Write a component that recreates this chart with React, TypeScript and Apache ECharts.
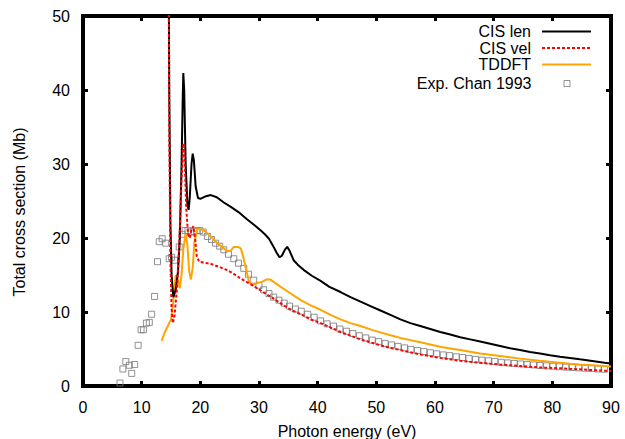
import React, { useEffect, useRef } from "react";
import * as echarts from "echarts";

// Photon energy (eV) / total cross section (Mb)
const cisLen: [number, number][] = [
  [14.5, 80], [14.7, 40], [14.9, 22], [15.1, 15], [15.4, 12.0], [15.8, 13.0], [16.2, 15.5],
  [16.5, 20], [16.8, 30], [17.0, 39], [17.1, 42.3], [17.25, 40], [17.5, 30], [17.8, 24.5],
  [18.0, 23.8], [18.2, 25.5], [18.5, 30], [18.7, 31.4], [18.9, 30.5], [19.2, 27], [19.6, 25.4],
  [20.0, 25.3], [20.8, 25.6], [21.8, 25.8], [22.8, 25.5], [24.0, 24.8], [25.2, 24.2], [26.5, 23.5],
  [28.0, 22.5], [29.3, 21.7], [30.3, 21.0], [31.0, 20.5], [31.7, 19.9], [32.5, 18.8], [33.0, 18.0],
  [33.5, 17.4], [33.9, 17.6], [34.4, 18.4], [34.8, 18.8], [35.2, 18.3], [35.9, 17.0], [36.6, 16.4],
  [37.6, 15.7], [39.0, 14.9], [40.5, 14.2], [42.0, 13.4], [43.9, 12.7], [45.6, 12.0], [47.3, 11.4],
  [49.0, 10.8], [50.7, 10.2], [52.4, 9.6], [54.1, 9.0], [55.8, 8.5], [57.5, 8.1], [59.2, 7.7],
  [60.9, 7.3], [62.6, 6.95], [64.3, 6.6], [66.0, 6.3], [67.7, 6.0], [69.4, 5.7], [71.1, 5.4],
  [72.8, 5.1], [74.5, 4.86], [76.2, 4.6], [77.9, 4.4], [79.6, 4.15], [81.3, 3.96], [83.0, 3.78],
  [84.7, 3.6], [86.8, 3.38], [88.9, 3.15], [90, 3.05],
];

const cisVel: [number, number][] = [
  [14.5, 80], [14.7, 35], [14.9, 17], [15.1, 10.5], [15.3, 8.5], [15.6, 9.5], [16.0, 13],
  [16.4, 19], [16.8, 28], [17.1, 32.8], [17.3, 31], [17.6, 24], [17.9, 20.5], [18.2, 20.0],
  [18.5, 21.2], [18.8, 21.6], [19.1, 20], [19.4, 17.5], [19.8, 16.8], [20.5, 16.7], [21.8, 16.5],
  [23.2, 16.1], [24.6, 15.65], [25.8, 15.1], [26.9, 14.5], [28.3, 13.9], [29.7, 13.2], [31.1, 12.5],
  [32.5, 11.8], [34.0, 11.0], [35.4, 10.3], [37.1, 9.7], [38.8, 9.0], [40.5, 8.5], [42.2, 7.9],
  [43.9, 7.3], [45.6, 6.8], [47.3, 6.3], [49.0, 5.9], [50.7, 5.5], [52.4, 5.15], [54.1, 4.86],
  [55.8, 4.55], [57.5, 4.27], [59.2, 4.02], [60.9, 3.8], [62.6, 3.6], [64.3, 3.4], [66.0, 3.27],
  [67.7, 3.15], [69.4, 3.02], [71.1, 2.9], [72.8, 2.8], [74.5, 2.7], [76.2, 2.6], [77.9, 2.5],
  [79.6, 2.45], [81.3, 2.4], [83.0, 2.32], [84.7, 2.25], [86.8, 2.15], [88.9, 2.06], [90, 2.02],
];

const tddft: [number, number][] = [
  [13.4, 6.1], [13.9, 7.2], [14.4, 8.0], [15.0, 9.0], [15.4, 11.5], [15.8, 15.0], [16.1, 14.5],
  [16.5, 13.2], [16.8, 15], [17.1, 18.5], [17.5, 20.6], [17.8, 19], [18.1, 15.5], [18.4, 14.4],
  [18.7, 16], [19.0, 19.5], [19.5, 21.3], [20.6, 21.05], [21.8, 20.2], [22.9, 19.3], [24.0, 18.6],
  [24.6, 18.2], [25.2, 18.3], [25.7, 18.8], [26.4, 18.8], [26.9, 18.6], [27.3, 17.5], [27.7, 16.1],
  [28.3, 14.1], [28.9, 13.6], [29.7, 13.9], [30.6, 14.1], [31.3, 14.4], [31.9, 14.4], [33.7, 13.4],
  [35.4, 12.5], [37.1, 11.6], [38.8, 10.9], [40.5, 10.3], [42.2, 9.6], [43.9, 9.0], [45.6, 8.5],
  [47.3, 8.1], [49.0, 7.65], [50.7, 7.25], [52.4, 6.85], [54.1, 6.5], [55.8, 6.2], [57.5, 5.9],
  [59.2, 5.6], [60.9, 5.3], [62.6, 5.08], [64.3, 4.86], [66.0, 4.63], [67.7, 4.4], [69.4, 4.22],
  [71.1, 4.05], [72.8, 3.87], [74.5, 3.7], [76.2, 3.55], [77.9, 3.4], [79.6, 3.27], [81.3, 3.15],
  [83.0, 3.02], [84.7, 2.9], [86.8, 2.8], [88.9, 2.7], [90, 2.65],
];

const expChan: [number, number][] = [
  [6.3, 0.4], [6.8, 2.3], [7.3, 3.3], [7.9, 2.8], [8.3, 1.7], [8.8, 2.9], [9.4, 5.5], [9.9, 7.6],
  [10.3, 7.6], [10.8, 8.5], [11.3, 8.6], [11.7, 9.7], [12.2, 12.1], [12.7, 16.8], [13.0, 19.5],
  [13.5, 19.9], [14.1, 19.3], [14.7, 17.2], [15.1, 17.4], [15.6, 17.0], [16.4, 18.8], [16.9, 20.5],
  [17.4, 21.0], [17.9, 21.0], [18.4, 20.8], [18.9, 20.9], [19.4, 21.0], [19.9, 21.0], [20.5, 20.8],
  [21.2, 20.2], [21.9, 19.8], [22.6, 19.3], [23.3, 18.9], [24.0, 18.4], [24.8, 17.8], [25.7, 17.2],
  [26.5, 16.6], [27.4, 15.9], [28.2, 15.1], [29.1, 14.3], [30.0, 13.6], [30.8, 13.0], [31.7, 12.5],
  [32.5, 12.0], [33.4, 11.6], [34.3, 11.2], [35.2, 10.8], [36.2, 10.4], [37.2, 10.1], [38.3, 9.7],
  [39.4, 9.3], [40.5, 8.8], [41.6, 8.4], [42.7, 8.1], [43.8, 7.7], [44.9, 7.4], [46.0, 7.1],
  [47.1, 6.8], [48.2, 6.5], [49.3, 6.2], [50.4, 6.0], [51.5, 5.75], [52.6, 5.55], [53.7, 5.35],
  [54.8, 5.15], [55.9, 4.95], [57.0, 4.8], [58.1, 4.65], [59.2, 4.5], [60.3, 4.35], [61.4, 4.2],
  [62.5, 4.1], [63.6, 3.95], [64.7, 3.85], [65.8, 3.7], [66.9, 3.6], [68.0, 3.5], [69.1, 3.4],
  [70.2, 3.3], [71.3, 3.2], [72.4, 3.12], [73.5, 3.05], [74.6, 2.98], [75.7, 2.9], [76.8, 2.85],
  [77.9, 2.78], [79.0, 2.72], [80.1, 2.66], [81.2, 2.6], [82.3, 2.55], [83.4, 2.5], [84.5, 2.45],
  [85.6, 2.4], [86.7, 2.36], [87.8, 2.3], [88.9, 2.26],
];

const seriesNames = ["CIS len", "CIS vel", "TDDFT", "Exp. Chan 1993"];
const xTitle = "Photon energy (eV)";
const yTitle = "Total cross section (Mb)";
const xRange = { min: 0, max: 90, interval: 10 };
const yRange = { min: 0, max: 50, interval: 10 };

const FONT = "'Liberation Sans', Arial, Helvetica, sans-serif";

export default function App() {
  const ref = useRef<HTMLDivElement>(null);
  useEffect(() => {
    if (!ref.current) return;
    const chart = echarts.init(ref.current, undefined, { renderer: "svg" });
    const frameLine = { lineStyle: { color: "#000", width: 4, cap: "square" } };
    const tick = { show: true, inside: true, length: 5, lineStyle: { color: "#000", width: 3 } };
    const label = { color: "#000", fontSize: 16, fontFamily: FONT };
    const legendText = { color: "#000", fontSize: 16, fontFamily: FONT, lineHeight: 15, padding: [0, 6, 0, 0] };
    chart.setOption({
      animation: false,
      backgroundColor: "#fff",
      textStyle: { fontFamily: FONT },
      grid: { left: 83, right: 14, top: 16, bottom: 53, containLabel: false, outerBoundsMode: "none" },
      xAxis: [
        {
          type: "value", ...xRange, position: "bottom",
          axisLine: { show: true, onZero: false, ...frameLine },
          axisTick: tick,
          axisLabel: { ...label, margin: 13 },
          splitLine: { show: false },
          name: xTitle, nameLocation: "middle", nameGap: 37,
          nameTextStyle: { color: "#000", fontSize: 16, fontFamily: FONT },
        },
        {
          type: "value", ...xRange, position: "top",
          axisLine: { show: true, onZero: false, ...frameLine },
          axisTick: tick, axisLabel: { show: false }, splitLine: { show: false },
        },
      ],
      yAxis: [
        {
          type: "value", ...yRange, position: "left",
          axisLine: { show: true, onZero: false, ...frameLine },
          axisTick: tick,
          axisLabel: { ...label, margin: 13 },
          splitLine: { show: false },
        },
        {
          type: "value", ...yRange, position: "right",
          axisLine: { show: true, onZero: false, ...frameLine },
          axisTick: tick, axisLabel: { show: false }, splitLine: { show: false },
        },
      ],
      legend: [
        {
          data: seriesNames.slice(0, 3),
          orient: "vertical", align: "right", right: 33, top: 23.5, padding: 0,
          itemWidth: 49, itemHeight: 12, itemGap: 0.5, selectedMode: false,
          itemStyle: { opacity: 0 },
          textStyle: legendText,
        },
        {
          data: [{ name: seriesNames[3], icon: "path://M0 0H10V10H0Z" }],
          orient: "vertical", align: "right", right: 54.5, top: 75.5, padding: 0,
          itemWidth: 49, itemHeight: 6, selectedMode: false,
          itemStyle: { color: "rgba(0,0,0,0)", borderColor: "#777", borderWidth: 1 },
          textStyle: legendText,
        },
      ],
      graphic: [
        {
          type: "text", x: 19, y: 212, rotation: Math.PI / 2,
          style: { text: yTitle, fill: "#000", fontSize: 16, fontFamily: FONT, align: "center", verticalAlign: "middle" },
        },
      ],
      series: [
        {
          name: seriesNames[0], type: "line", data: cisLen, symbol: "none", clip: true,
          lineStyle: { color: "#000", width: 2 }, itemStyle: { color: "#000" }, z: 4,
        },
        {
          name: seriesNames[1], type: "line", data: cisVel, symbol: "none", clip: true,
          lineStyle: { color: "#ff0000", width: 2, type: [3, 2] }, itemStyle: { color: "#ff0000" }, z: 5,
        },
        {
          name: seriesNames[2], type: "line", data: tddft, symbol: "none", clip: true,
          lineStyle: { color: "#ffa500", width: 2 }, itemStyle: { color: "#ffa500" }, z: 3,
        },
        {
          name: seriesNames[3], type: "scatter", data: expChan, symbol: "rect", symbolSize: 6, clip: true,
          itemStyle: { color: "rgba(0,0,0,0)", borderColor: "#777", borderWidth: 1 }, z: 2,
        },
      ],
    });
    return () => chart.dispose();
  }, []);
  return <div ref={ref} style={{ position: "fixed", left: 0, top: 0, width: 625, height: 439 }} />;
}
